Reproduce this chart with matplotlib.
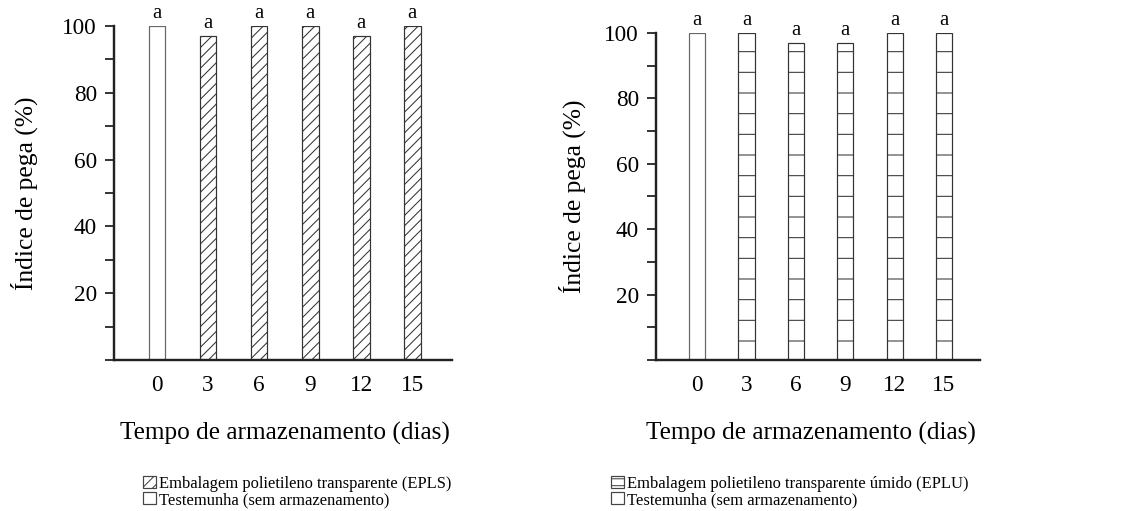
import matplotlib.pyplot as plt
from matplotlib.patches import Patch

plt.rcParams['font.family'] = ['Liberation Serif', 'DejaVu Serif']
plt.rcParams['hatch.linewidth'] = 0.6

dias = ['0', '3', '6', '9', '12', '15']
epls = [100, 97, 100, 100, 97, 100]
eplu = [100, 100, 97, 97, 100, 100]
letras_epls = ['a', 'a', 'a', 'a', 'a', 'a']
letras_eplu = ['a', 'a', 'a', 'a', 'a', 'a']
yticks = [0, 10, 20, 30, 40, 50, 60, 70, 80, 90, 100]
ylabels = ['', '', '20', '', '40', '', '60', '', '80', '', '100']

DPI = 124
fig = plt.figure(figsize=(1145 / DPI, 511 / DPI), dpi=DPI)

panels = [
    (epls, letras_epls, '////', '////', [0.0996, 0.2955, 0.2952, 0.6536], (-0.84, 5.78), -0.225,
     'Embalagem polietileno transparente (EPLS)', 0.249, 0.125),
    (eplu, letras_eplu, '-', '---', [0.573, 0.2955, 0.283, 0.640], (-0.83, 5.73), -0.216,
     'Embalagem polietileno transparente úmido (EPLU)', 0.708, 0.534),
]

for vals, letras, hatch, leg_hatch, rect, xl, ylx, leg_label, xlab_x, leg_x in panels:
    ax = fig.add_axes(rect)
    x = list(range(len(dias)))
    hatches = [''] + [hatch] * (len(dias) - 1)
    for i, v in enumerate(vals):
        ax.bar(x[i], v, width=0.33, color='white', edgecolor='#333333' if i else '#666666',
               linewidth=0.7, hatch=hatches[i], zorder=2)
        ax.text(x[i], v + 1.0, letras[i], ha='center', va='bottom', fontsize=12, clip_on=False)
    ax.set_xlim(*xl)
    ax.set_ylim(0, 100)
    ax.set_xticks(x)
    ax.set_xticklabels(dias, fontsize=13.5)
    ax.set_yticks(yticks)
    ax.set_yticklabels(ylabels, fontsize=13.5)
    ax.tick_params(axis='x', length=0, pad=9)
    ax.tick_params(axis='y', length=5, width=0.9, pad=5, direction='out')
    for s in ['top', 'right']:
        ax.spines[s].set_visible(False)
    for s in ['left', 'bottom']:
        ax.spines[s].set_linewidth(1.4)
        ax.spines[s].set_color('#222222')
    ax.set_ylabel('Índice de pega (%)', fontsize=14.8)
    ax.yaxis.set_label_coords(ylx, 0.5)
    fig.text(xlab_x, 1 - 433 / 511, 'Tempo de armazenamento (dias)', fontsize=14.7,
             ha='center', va='center')
    handles = [Patch(facecolor='white', edgecolor='#444444', hatch=leg_hatch, linewidth=0.7),
               Patch(facecolor='white', edgecolor='#444444', linewidth=0.7)]
    fig.legend(handles, [leg_label, 'Testemunha (sem armazenamento)'],
               loc='upper left', bbox_to_anchor=(leg_x, 1 - 476 / 511),
               frameon=False, fontsize=9.6, handlelength=0.75, handleheight=0.75,
               handletextpad=0.2, labelspacing=0.0, borderpad=0, borderaxespad=0)

fig.savefig('out.png', dpi=DPI)
